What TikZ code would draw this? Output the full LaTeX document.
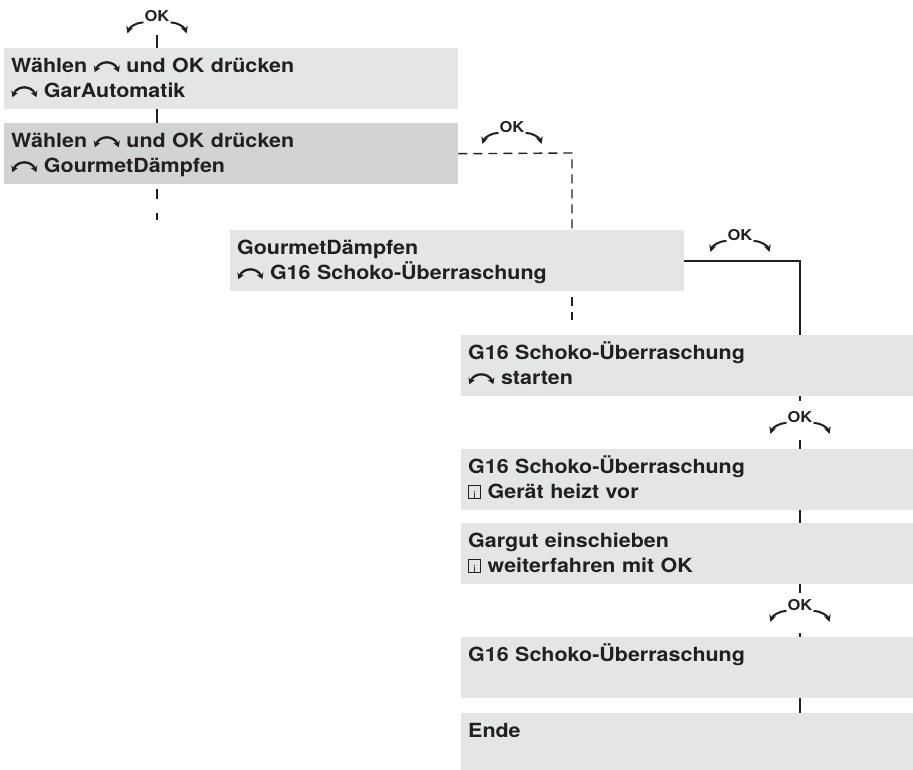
\documentclass[tikz,border=0pt]{standalone}
\usepackage{fontspec}
\setmainfont{TeX Gyre Heros}[FakeStretch=1.1]
\usepackage{tikz}
\usetikzlibrary{arrows.meta,positioning}
\definecolor{inkc}{HTML}{231F20}
\definecolor{panelc}{HTML}{E4E5E7}
\definecolor{activec}{HTML}{D1D3D4}
\tikzset{
  panel/.style={fill=panelc,anchor=north west,align=left,inner xsep=7pt,inner ysep=0pt,
    text width=#1,text height=24pt,text depth=37pt,text=inkc,
    font=\fontsize{19.5}{25}\selectfont\bfseries},
  panel/.default=440pt,
  ln/.style={draw=inkc,line width=2pt},
  dsh/.style={draw=inkc,line width=1.4pt,dash pattern=on 9pt off 6pt},
  oklbl/.style={inner sep=0pt,text=inkc,font=\fontsize{15}{15}\selectfont\bfseries},
  okarc/.style={draw=inkc,line width=2pt,-{Stealth[length=7pt,width=7pt]}}
}
\newcommand{\knob}{\tikz[x=1pt,y=1pt,baseline=0pt]\draw[inkc,line width=2.3pt,
  {Stealth[length=6pt,width=7pt]}-{Stealth[length=6pt,width=7pt]}]
  (0,0) .. controls (5,12) and (19,12) .. (24,0);}
\newcommand{\infoicon}{{\setlength{\fboxsep}{0pt}\setlength{\fboxrule}{1pt}%
  \fbox{\makebox[11pt][c]{\rule{0pt}{12pt}\fontsize{10}{10}\selectfont\mdseries i}}}}
\begin{document}
\begin{tikzpicture}[x=1pt,y=-1pt]
\useasboundingbox (0,0) rectangle (913,770);
% program selection
\node[panel] (b1) at (4,48) {Wählen \knob\ und OK drücken\\\knob\ GarAutomatik};
\node[panel,fill=activec] (b2) at (4,123) {Wählen \knob\ und OK drücken\\\knob\ GourmetDämpfen};
\node[panel] (b3) at (230,230) {GourmetDämpfen\\\knob\ G16 Schoko-Überraschung};
% recipe steps
\node[panel=438pt] (b4) at (461,335) {G16 Schoko-Überraschung\\\knob\ starten};
\node[panel=438pt] (b5) at (461,449) {G16 Schoko-Überraschung\\\infoicon\ Gerät heizt vor};
\node[panel=438pt] (b6) at (461,523) {Gargut einschieben\\\infoicon\ weiterfahren mit OK};
\node[panel=438pt] (b7) at (461,637) {G16 Schoko-Überraschung};
\node[panel=438pt,text depth=33pt] (b8) at (461,713) {Ende};
% OK marks
\foreach \nm/\ox/\oy in {okA/157/16.5,okB/512/127,okC/740/235,okD/800/417,okE/800/605}{
  \node[oklbl] (\nm) at (\ox,\oy) {OK};
  \draw[okarc] ([xshift=-1pt]\nm.south west) .. controls +(-7,0) and +(2,-6) .. +(-16,11);
  \draw[okarc] ([xshift=1pt]\nm.south east) .. controls +(7,0) and +(-2,-6) .. +(16,11);
}
\coordinate (dashturn) at (572,153);
\draw[ln,shorten <=13pt] (okA.south) -- (b1.north -| okA);
\draw[ln] (b1.south -| okA) -- (b2.north -| okA);
\draw[dsh,dash pattern=on 10pt off 14pt,dash phase=19pt] (b2.south -| okA) -- ++(0,36);
\draw[dsh] (b2.east) -- (dashturn) -- (b3.north -| dashturn);
\draw[dsh,dash phase=9pt] (b3.south -| dashturn) -- ++(0,29);
\draw[ln] (b3.east) -| (b4.north -| okD);
\draw[ln,shorten >=10pt] (b4.south -| okD) -- (okD.north);
\draw[ln,shorten <=17pt] (okD.south) -- (b5.north -| okD);
\draw[ln] (b5.south -| okD) -- (b6.north -| okD);
\draw[ln,shorten >=6pt] (b6.south -| okE) -- (okE.north);
\draw[ln,shorten <=22pt] (okE.south) -- (b7.north -| okE);
\draw[ln] (b7.south -| okE) -- (b8.north -| okE);
\end{tikzpicture}
\end{document}
